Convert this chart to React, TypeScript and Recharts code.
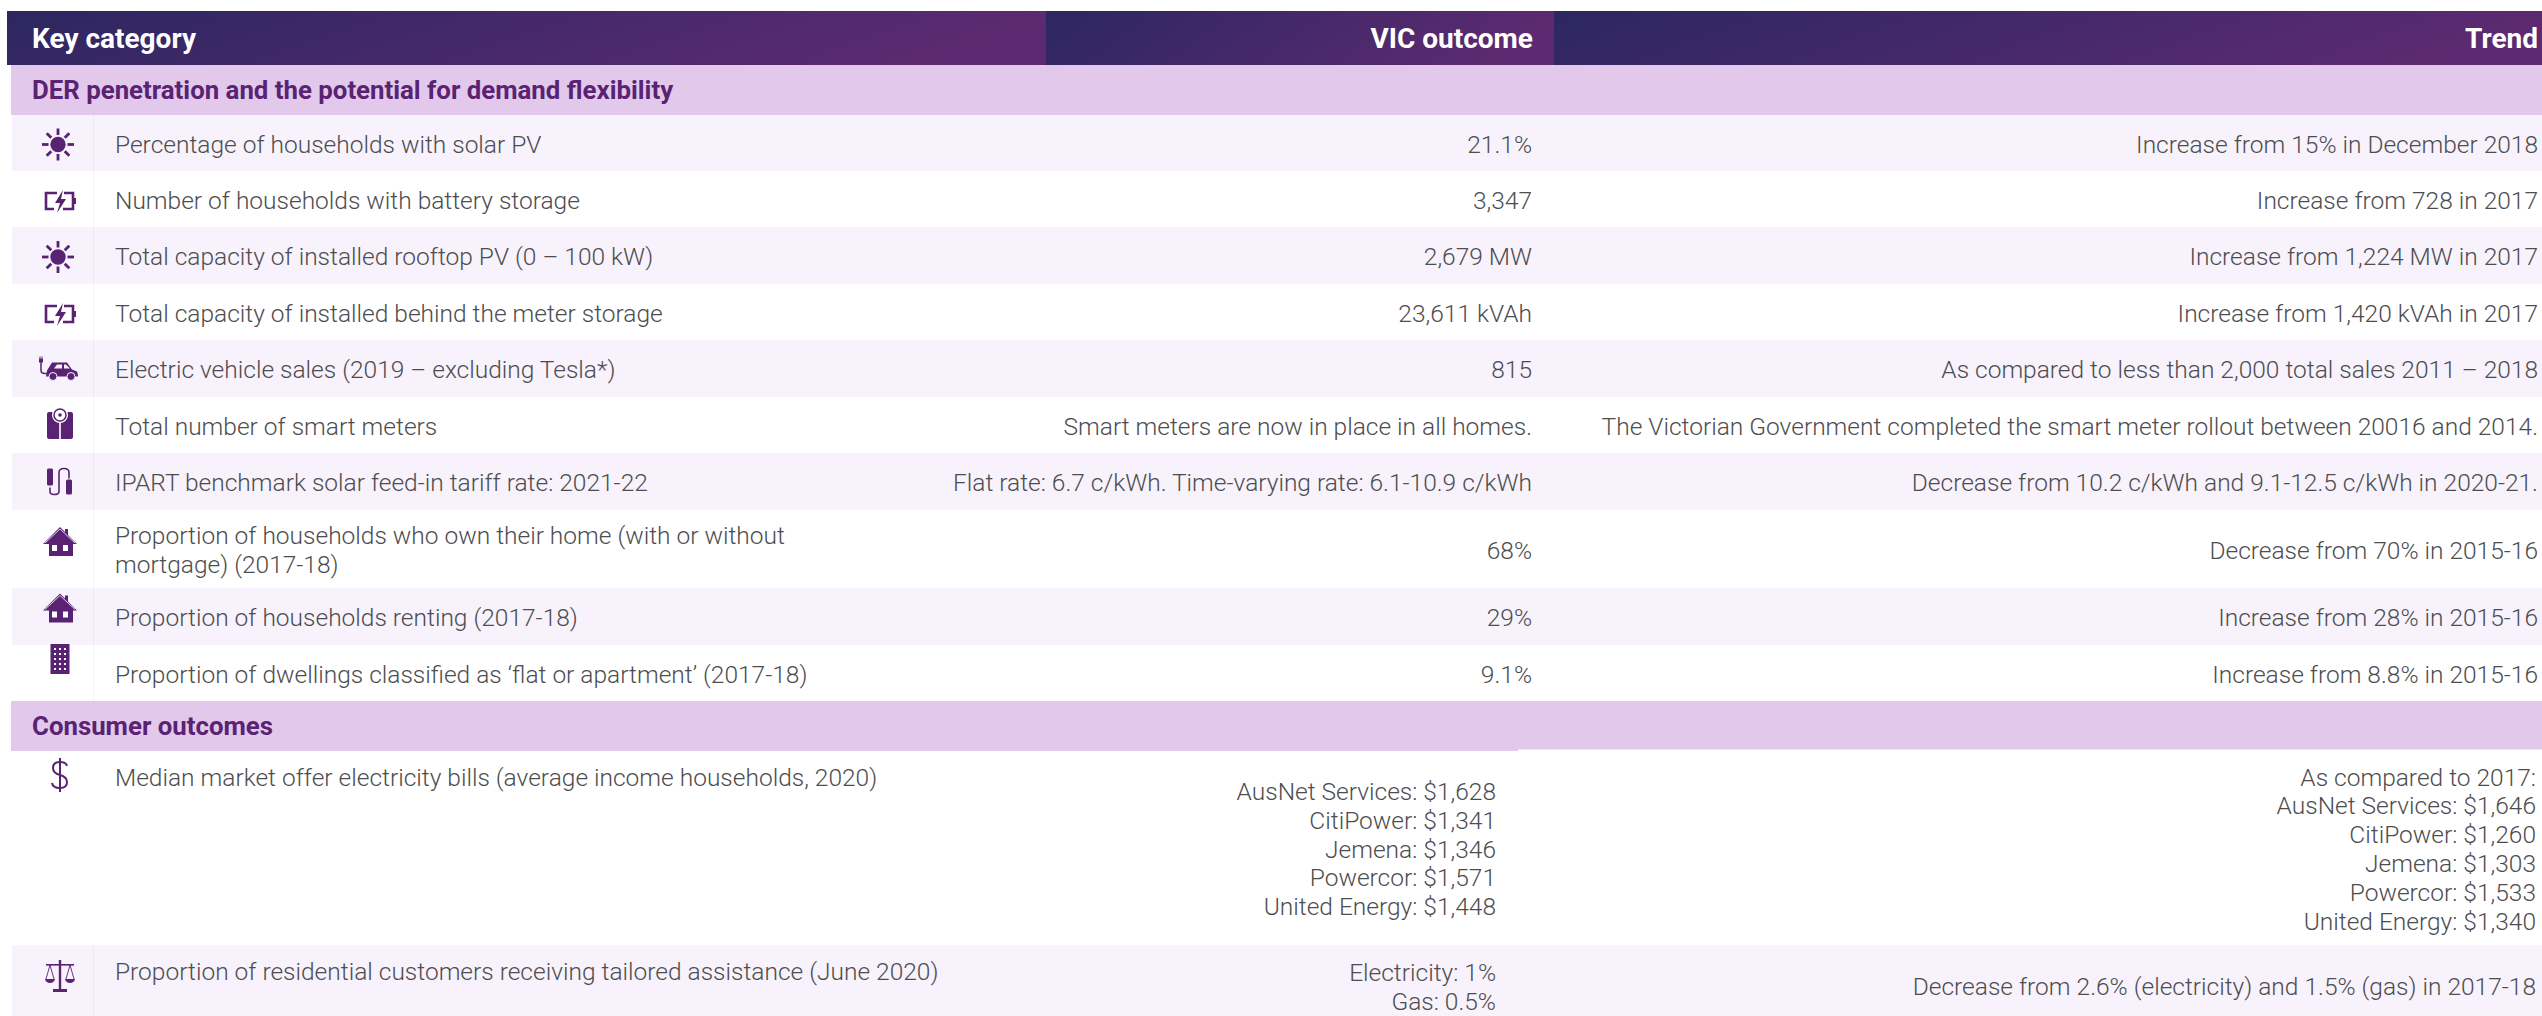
import React from 'react';
import { ScatterChart, Scatter, XAxis, YAxis, ReferenceArea } from 'recharts';

const WIDTH = 2542;
const HEIGHT = 1016;
const PURPLE = '#5a2273';
const GREY = '#4d4d4f';
const TINT = '#f7f2fb';
const TINT_LINE = '#f0e9f4';
const WHITE_LINE = '#f8f5fa';
const LILAC = '#e2c9ec';
const FONT = 'Roboto, sans-serif';

const headers = ['Key category', 'VIC outcome', 'Trend'];
const sections = ['DER penetration and the potential for demand flexibility', 'Consumer outcomes'];

const derLabels = [
  ['Percentage of households with solar PV'],
  ['Number of households with battery storage'],
  ['Total capacity of installed rooftop PV (0 – 100 kW)'],
  ['Total capacity of installed behind the meter storage'],
  ['Electric vehicle sales (2019 – excluding Tesla*)'],
  ['Total number of smart meters'],
  ['IPART benchmark solar feed-in tariff rate: 2021-22'],
  ['Proportion of households who own their home (with or without', 'mortgage) (2017-18)'],
  ['Proportion of households renting (2017-18)'],
  ['Proportion of dwellings classified as ‘flat or apartment’ (2017-18)'],
];
const derOutcomes = [
  '21.1%',
  '3,347',
  '2,679 MW',
  '23,611 kVAh',
  '815',
  'Smart meters are now in place in all homes.',
  'Flat rate: 6.7 c/kWh. Time-varying rate: 6.1-10.9 c/kWh',
  '68%',
  '29%',
  '9.1%',
];
const derTrends = [
  'Increase from 15% in December 2018',
  'Increase from 728 in 2017',
  'Increase from 1,224 MW in 2017',
  'Increase from 1,420 kVAh in 2017',
  'As compared to less than 2,000 total sales 2011 – 2018',
  'The Victorian Government completed the smart meter rollout between 20016 and 2014.',
  'Decrease from 10.2 c/kWh and 9.1-12.5 c/kWh in 2020-21.',
  'Decrease from 70% in 2015-16',
  'Increase from 28% in 2015-16',
  'Increase from 8.8% in 2015-16',
];
const derIcons = ['sun', 'battery', 'sun', 'battery', 'car', 'meter', 'plug', 'house', 'house', 'building'];

const billLabel = 'Median market offer electricity bills (average income households, 2020)';
const billOutcomes = ['AusNet Services: $1,628', 'CitiPower: $1,341', 'Jemena: $1,346', 'Powercor: $1,571', 'United Energy: $1,448'];
const billTrends = ['As compared to 2017:', 'AusNet Services: $1,646', 'CitiPower: $1,260', 'Jemena: $1,303', 'Powercor: $1,533', 'United Energy: $1,340'];
const assistLabel = 'Proportion of residential customers receiving tailored assistance (June 2020)';
const assistOutcomes = ['Electricity: 1%', 'Gas: 0.5%'];
const assistTrend = 'Decrease from 2.6% (electricity) and 1.5% (gas) in 2017-18';

// layout of the table, top to bottom: header, section, 10 rows, section, 2 rows
const rowHeights = [54, 50, 56, 56, 57, 56, 57, 56, 57, 78, 57, 56, 50, 194, 71];
const TOP = 11;
const rowTops = rowHeights.reduce<number[]>((acc, h) => [...acc, acc[acc.length - 1] + h], [TOP]);
const mid = (i: number) => (rowTops[i] + rowTops[i + 1]) / 2;

const LABEL_X = 115;
const OUTCOME_X = 1532;
const TREND_X = 2538;
const BILL_X = 1496;
const LINE = 28.8;
const TEXT_DROP = 1;
const iconNudge = [1.5, 2, 1.5, 2, -1, -1, 0, -7, -8, -14];

type Txt = { x: number; y: number; text: string; anchor: string; weight: number; size: number; fill: string };

const plain = (x: number, y: number, text: string, anchor = 'start'): Txt => ({ x, y: y + TEXT_DROP, text, anchor, weight: 300, size: 24.5, fill: GREY });

const stack = (x: number, center: number, lines: string[], anchor: string) =>
  lines.map((t, i) => plain(x, center + (i - (lines.length - 1) / 2) * LINE, t, anchor));

const head = (x: number, text: string, anchor: string): Txt => ({ x, y: mid(0) + 0.5, text, anchor, weight: 700, size: 28, fill: '#fff' });
const section = (i: number, text: string): Txt => ({ x: 32, y: mid(i), text, anchor: 'start', weight: 700, size: 25.8, fill: PURPLE });

const textPoints: Txt[] = [
  head(32, headers[0], 'start'),
  head(1533, headers[1], 'end'),
  head(TREND_X, headers[2], 'end'),
  section(1, sections[0]),
  section(12, sections[1]),
  ...derLabels.flatMap((l, i) => stack(LABEL_X, mid(i + 2), l, 'start')),
  ...derOutcomes.map((t, i) => plain(OUTCOME_X, mid(i + 2), t, 'end')),
  ...derTrends.map((t, i) => plain(TREND_X, mid(i + 2), t, 'end')),
  plain(LABEL_X, rowTops[13] + 25, billLabel),
  ...stack(BILL_X, mid(13), billOutcomes, 'end'),
  ...stack(TREND_X - 2, mid(13), billTrends, 'end'),
  plain(LABEL_X, rowTops[14] + 25, assistLabel),
  ...stack(BILL_X, rowTops[14] + 41, assistOutcomes, 'end'),
  plain(TREND_X - 2, rowTops[14] + 40, assistTrend, 'end'),
];

const iconPoints = [
  ...derIcons.map((icon, i) => ({ x: 60, y: mid(i + 2) + iconNudge[i], icon })),
  { x: 60, y: rowTops[13] + 24, icon: 'dollar' },
  { x: 60, y: rowTops[14] + 31, icon: 'scales' },
];

const TextMark = (props: any) => {
  const p: Txt = props.payload;
  return (
    <text x={props.cx} y={props.cy} textAnchor={p.anchor} dominantBaseline="central" fontFamily={FONT} fontWeight={p.weight} fontSize={p.size} fill={p.fill}>
      {p.text}
    </text>
  );
};

const sunRays = [0, 45, 90, 135, 180, 225, 270, 315];

const Icon = (props: any) => {
  const name = props.payload.icon;
  let body: React.ReactNode = null;
  if (name === 'sun') {
    body = (
      <g transform="translate(-2,0)">
        <circle r={7.7} fill={PURPLE} />
        {sunRays.map(a => (
          <rect key={a} x={-1.4} y={-16} width={2.8} height={6.5} fill={PURPLE} transform={`rotate(${a})`} />
        ))}
      </g>
    );
  } else if (name === 'battery') {
    body = (
      <g>
        <path d="M-3,-8 H-14 V8 H-6 M4,-8 H13 V8 H3" fill="none" stroke={PURPLE} strokeWidth={2.6} />
        <rect x={13} y={-3} width={3} height={6} fill={PURPLE} />
        <path d="M3,-11 L-5,2 H0 L-3,12 L6,-2 H1 Z" fill={PURPLE} />
      </g>
    );
  } else if (name === 'car') {
    body = (
      <g fill={PURPLE}>
        <path d="M-13,3 L-8,-5 H7 L12,2 L17,4 Q18,6 18,9 H-14 Z" />
        <path d="M-6,1 L-3,-3 H2 V1 Z M4,-3 H6 L10,1 H4 Z" fill={TINT} />
        <circle cx={-7} cy={9} r={4} stroke={TINT} />
        <circle cx={11} cy={9} r={4} stroke={TINT} />
        <path d="M-19,-6 V3 Q-19,6 -15,6 H-12" fill="none" stroke={PURPLE} strokeWidth={1.5} />
        <rect x={-21} y={-9} width={4} height={4} />
        <rect x={-20.5} y={-11} width={1} height={2} />
        <rect x={-18.5} y={-11} width={1} height={2} />
      </g>
    );
  } else if (name === 'meter') {
    body = (
      <g>
        <rect x={-13} y={-12} width={26} height={27} rx={2} fill={PURPLE} />
        <rect x={-0.8} y={-2} width={1.6} height={17} fill="#fff" />
        <circle cy={-9} r={8} fill="#fff" />
        <circle cy={-9} r={6} fill="#fff" stroke={PURPLE} strokeWidth={1.5} />
        <circle cy={-9} r={1.8} fill={PURPLE} />
      </g>
    );
  } else if (name === 'plug') {
    body = (
      <g>
        <path d="M-10,6 V10 Q-10,13 -6,13 Q-1,13 -1,10 V-9 Q-1,-13 4,-13 Q9,-13 9,-9 V-3" fill="none" stroke={PURPLE} strokeWidth={1.6} />
        <rect x={-13} y={-13} width={6} height={17} rx={1.5} fill={PURPLE} />
        <rect x={6} y={-2} width={6} height={15} rx={1.5} fill={PURPLE} />
      </g>
    );
  } else if (name === 'house') {
    body = (
      <g>
        <path d="M0,-15 L5,-10 V-13 H8 V-7 L17,2 H13 V14 H-11 V2 H-17 Z" fill={PURPLE} />
        <rect x={-8} y={3} width={5} height={6} fill="#fff" />
        <rect x={3} y={3} width={5} height={6} fill="#fff" />
        <path d="M-15,1 L0,-13 L15,1" fill="none" stroke="#fff" strokeWidth={0.8} />
      </g>
    );
  } else if (name === 'building') {
    body = (
      <g>
        <rect x={-9.5} y={-15} width={19} height={30} fill={PURPLE} />
        {[-10, -5, 0, 5, 10].flatMap(dy =>
          [-5, 0, 5].map(dx => <rect key={`${dx}${dy}`} x={dx - 1} y={dy - 1} width={2} height={2} fill="#fff" />),
        )}
      </g>
    );
  } else if (name === 'dollar') {
    body = (
      <g fill="none" stroke={PURPLE} strokeWidth={2}>
        <path d="M7,-9 Q6,-13 0,-13 Q-7,-13 -7,-7 Q-7,-2 0,0 Q7,2 7,7 Q7,13 0,13 Q-7,13 -8,8" />
        <path d="M0,-17 V17" />
      </g>
    );
  } else if (name === 'scales') {
    body = (
      <g>
        <rect x={-1.2} y={-16} width={2.4} height={29} fill={PURPLE} />
        <rect x={-14} y={-12} width={28} height={1.6} fill={PURPLE} />
        <rect x={-7} y={13} width={14} height={3} fill={PURPLE} />
        <path d="M-10,-11 L-14,3 M-10,-11 L-6,3 M10,-11 L14,3 M10,-11 L6,3" stroke={PURPLE} strokeWidth={0.9} />
        <path d="M-15,3 H-5 Q-6,7 -10,7 Q-14,7 -15,3 Z M15,3 H5 Q6,7 10,7 Q14,7 15,3 Z" fill={PURPLE} />
      </g>
    );
  }
  return <g transform={`translate(${props.cx},${props.cy})`}>{body}</g>;
};

const headerCols = [
  [7, 1046],
  [1046, 1554],
  [1554, WIDTH],
];

export default function App() {
  return (
    <div style={{ position: 'absolute', left: 0, top: 0, width: WIDTH, height: HEIGHT, background: '#fff' }}>
      <ScatterChart width={WIDTH} height={HEIGHT} margin={{ top: 0, right: 0, bottom: 0, left: 0 }}>
        <defs>
          <linearGradient id="headGrad" x1="0" y1="0" x2="1" y2="0.15">
            <stop offset="0%" stopColor="#2c2760" />
            <stop offset="100%" stopColor="#5c2a70" />
          </linearGradient>
        </defs>
        <XAxis type="number" dataKey="x" domain={[0, WIDTH]} hide />
        <YAxis type="number" dataKey="y" domain={[0, HEIGHT]} reversed hide />

        {rowHeights.map((_, i) => {
          if (i < 2 || i === 12 || i === 13) return null;
          const tinted = (i <= 11 && i % 2 === 0) || i === 14;
          return (
            <React.Fragment key={i}>
              {tinted && <ReferenceArea x1={12} x2={WIDTH} y1={rowTops[i]} y2={rowTops[i + 1]} fill={TINT} fillOpacity={1} stroke="none" ifOverflow="visible" />}
              <ReferenceArea x1={93} x2={94} y1={rowTops[i]} y2={rowTops[i + 1]} fill={tinted ? TINT_LINE : WHITE_LINE} fillOpacity={1} stroke="none" ifOverflow="visible" />
            </React.Fragment>
          );
        })}
        {headerCols.map(([a, b]) => (
          <ReferenceArea key={a} x1={a} x2={b} y1={rowTops[0]} y2={rowTops[1]} fill="url(#headGrad)" fillOpacity={1} stroke="none" ifOverflow="visible" />
        ))}
        <ReferenceArea x1={11} x2={WIDTH} y1={rowTops[1]} y2={rowTops[2]} fill={LILAC} fillOpacity={1} stroke="none" ifOverflow="visible" />
        <ReferenceArea x1={11} x2={1518} y1={rowTops[12]} y2={rowTops[13]} fill={LILAC} fillOpacity={1} stroke="none" ifOverflow="visible" />
        <ReferenceArea x1={1518} x2={WIDTH} y1={rowTops[12]} y2={rowTops[13] - 1.5} fill={LILAC} fillOpacity={1} stroke="none" ifOverflow="visible" />

        <Scatter data={iconPoints} shape={Icon} isAnimationActive={false} />
        <Scatter data={textPoints} shape={TextMark} isAnimationActive={false} />
      </ScatterChart>
    </div>
  );
}
